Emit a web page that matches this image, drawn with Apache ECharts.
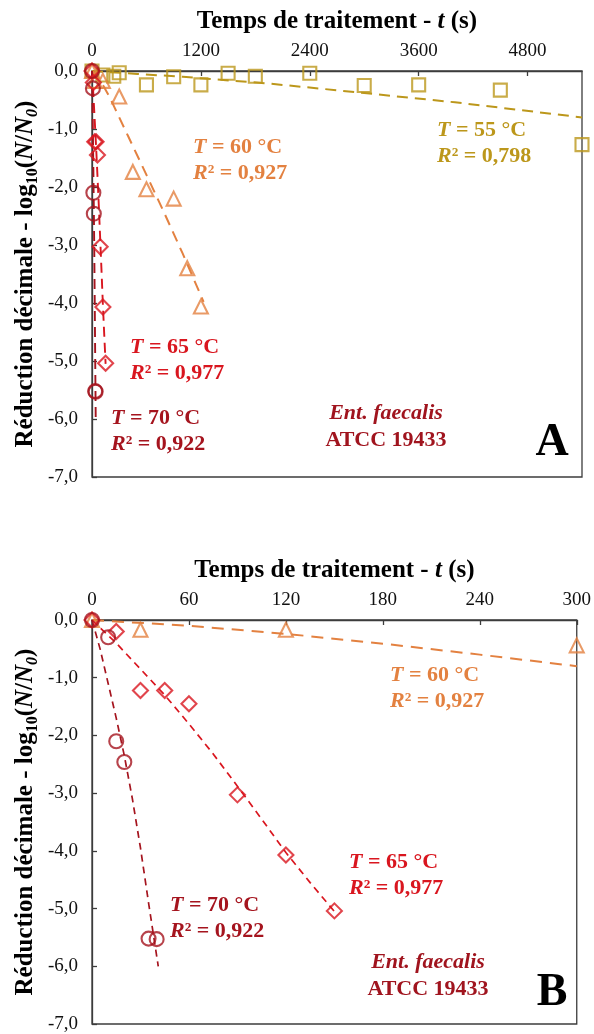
<!DOCTYPE html>
<html><head><meta charset="utf-8">
<script src="https://cdn.jsdelivr.net/npm/echarts@6/dist/echarts.min.js"></script>
<style>html,body{margin:0;padding:0;background:#fff}#c{width:594px;height:1034px}</style>
</head><body><div id="c"></div>
<script>
// ---- data (time in s, log10 reduction) ----
const t55 = [0, 120, 240, 300, 600, 900, 1200, 1500, 1800, 2400, 3000, 3600, 4500, 5400];
const v55 = [0, -0.07, -0.09, -0.03, -0.24, -0.1, -0.24, -0.04, -0.09, -0.04, -0.25, -0.24, -0.33, -1.27];
const t60 = [0, 30, 120, 300, 450, 600, 900, 1050, 1200];
const v60 = [0, -0.17, -0.17, -0.44, -1.74, -2.04, -2.2, -3.4, -4.06];
const t65 = [0, 15, 30, 45, 60, 90, 120, 150];
const v65 = [0, -0.2, -1.22, -1.22, -1.45, -3.03, -4.07, -5.04];
const t70 = [0, 10, 15, 20, 35, 40];
const v70 = [0, -0.3, -2.1, -2.46, -5.52, -5.53];
// fitted curves
const fit55T = [0, 500, 1000, 1900, 2300, 3000, 4000, 5400];
const fit55V = [0, -0.05, -0.1, -0.21, -0.27, -0.38, -0.54, -0.8];
const fit60T = [0, 60, 120, 180, 240, 300, 400, 600, 800, 1000, 1230];
const fit60V = [0, -0.1, -0.24, -0.41, -0.6, -0.8, -1.13, -1.79, -2.46, -3.15, -3.98];
const fit65T = [0, 15, 30, 45, 60, 75, 90, 105, 120, 135, 150];
const fit65V = [0, -0.4, -0.85, -1.3, -1.8, -2.32, -2.88, -3.45, -4.03, -4.55, -5.05];
const fit70T = [0, 5, 10, 15, 20, 25, 30, 35, 41];
const fit70V = [0, -0.5, -1.1, -1.7, -2.35, -3.1, -3.95, -4.9, -6.0];
const xTicksA = [0, 1200, 2400, 3600, 4800];
const xTicksB = [0, 60, 120, 180, 240, 300];
const yTicks = [0, -1, -2, -3, -4, -5, -6, -7];
const labels = {
  T55: ['55 °C', '0,798'], T60: ['60 °C', '0,927'], T65: ['65 °C', '0,977'], T70: ['70 °C', '0,922']
};

const FONT = "'Liberation Serif', 'Times New Roman', serif";
const C55 = '#BC971B', C60 = '#E38140', C65 = '#D9161F', C70 = '#A5141E', CENT = '#A0141E';
const AX = '#3c3c3c';

function pairs(t, v, max) { return t.map((x, i) => [x, v[i]]).filter(p => p[0] <= max + 1e-9); }

const yName = '{b|Réduction décimale - log}{s|10}{b|(}{i|N}{b|/}{i|N}{si|0}{b|)}';
const yRich = {
  b: {fontFamily: FONT, fontSize: 25, fontWeight: 'bold', color: '#000', lineHeight: 30},
  i: {fontFamily: FONT, fontSize: 25, fontWeight: 'bold', fontStyle: 'italic', color: '#000', lineHeight: 30},
  s: {fontFamily: FONT, fontSize: 16, fontWeight: 'bold', color: '#000', verticalAlign: 'bottom', lineHeight: 16},
  si: {fontFamily: FONT, fontSize: 16, fontWeight: 'bold', fontStyle: 'italic', color: '#000', verticalAlign: 'bottom', lineHeight: 16}
};
const xName = '{b|Temps de traitement - }{i|t}{b| (s)}';

function xAxis(gi, max, interval, ticks) {
  return {
    type: 'value', gridIndex: gi, position: 'top', min: 0, max: max, interval: interval,
    name: xName, nameLocation: 'middle', nameGap: 34, nameMoveOverlap: false,
    nameTextStyle: {rich: yRich},
    axisLine: {show: true, lineStyle: {color: AX, width: 1.3}},
    axisTick: {show: true, inside: true, length: 5, lineStyle: {color: AX, width: 1.3}},
    axisLabel: {show: true, margin: 10, fontFamily: FONT, fontSize: 19, color: '#111',
      showMaxLabel: ticks.indexOf(max) >= 0,
      formatter: v => ticks.indexOf(v) >= 0 ? String(v) : ''},
    splitLine: {show: false}
  };
}
function yAxis(gi) {
  return {
    type: 'value', gridIndex: gi, min: -7, max: 0, interval: 1,
    name: yName, nameLocation: 'middle', nameRotate: 90, nameGap: 51, nameMoveOverlap: false,
    nameTextStyle: {rich: yRich},
    axisLine: {show: true, onZero: false, lineStyle: {color: AX, width: 1.3}},
    axisTick: {show: true, inside: true, length: 5, lineStyle: {color: AX, width: 1.3}},
    axisLabel: {margin: 14, fontFamily: FONT, fontSize: 19, color: '#111',
      formatter: v => yTicks.indexOf(v) >= 0 ? v.toFixed(1).replace('.', ',') : ''},
    splitLine: {show: false}
  };
}
function scat(gi, t, v, max, sym, size, color) {
  return {type: 'scatter', xAxisIndex: gi, yAxisIndex: gi, data: pairs(t, v, max), symbol: sym, symbolSize: size,
    clip: false, z: 3, itemStyle: {color: 'rgba(255,255,255,0)', borderColor: color, borderWidth: 2.1}};
}
function fit(gi, t, v, max, color, dash, w) {
  return {type: 'line', xAxisIndex: gi, yAxisIndex: gi, data: pairs(t, v, max), showSymbol: false, symbol: 'none',
    clip: true, z: 2, lineStyle: {color: color, width: w, type: dash}};
}
function ann(x, y, key, color) {
  const r = {
    i: {fontFamily: FONT, fontSize: 22, fontWeight: 'bold', fontStyle: 'italic', fill: color},
    b: {fontFamily: FONT, fontSize: 22, fontWeight: 'bold', fill: color}
  };
  return [
    {type: 'text', x: x, y: y, z: 10, style: {text: '{i|T}{b| = ' + labels[key][0] + '}', rich: r, align: 'left', verticalAlign: 'middle', fill: color}},
    {type: 'text', x: x, y: y + 26, z: 10, style: {text: '{i|R}{b|² = ' + labels[key][1] + '}', rich: r, align: 'left', verticalAlign: 'middle', fill: color}}
  ];
}
function ent(x, y) {
  return [
    {type: 'text', x: x, y: y, z: 10, style: {text: 'Ent. faecalis', font: 'italic bold 22px ' + FONT, fill: CENT, align: 'center', verticalAlign: 'middle'}},
    {type: 'text', x: x, y: y + 27, z: 10, style: {text: 'ATCC 19433', font: 'bold 22px ' + FONT, fill: CENT, align: 'center', verticalAlign: 'middle'}}
  ];
}
function letter(x, y, s) {
  return {type: 'text', x: x, y: y, z: 10, style: {text: s, font: 'bold 46px ' + FONT, fill: '#000', align: 'center', verticalAlign: 'middle'}};
}

const option = {
  animation: false,
  backgroundColor: '#fff',
  grid: [
    {left: 92, top: 71, width: 490, height: 406, show: true, borderColor: AX, borderWidth: 1.3, backgroundColor: 'transparent'},
    {left: 92, top: 620, width: 490, height: 404, show: true, borderColor: AX, borderWidth: 1.3, backgroundColor: 'transparent'}
  ],
  xAxis: [xAxis(0, 5400, 1200, xTicksA), xAxis(1, 300, 60, xTicksB)],
  yAxis: [yAxis(0), yAxis(1)],
  series: [
    fit(0, fit55T, fit55V, 5400, C55, [11, 7], 2),
    fit(0, fit60T, fit60V, 5400, C60, [11, 7], 2),
    fit(0, fit65T, fit65V, 5400, C65, [10, 6], 1.9),
    fit(0, fit70T, fit70V, 5400, C70, [10, 6], 1.9),
    scat(0, t55, v55, 5400, 'rect', 13, C55),
    scat(0, t60, v60, 5400, 'triangle', 14, C60),
    scat(0, t65, v65, 5400, 'diamond', 15, C65),
    scat(0, t70, v70, 5400, 'circle', 14, C70),
    fit(1, fit60T, fit60V, 300, C60, [12, 8], 2),
    fit(1, fit65T, fit65V, 300, C65, [7, 5], 1.7),
    fit(1, fit70T, fit70V, 300, C70, [7, 5], 1.7),
    scat(1, t60, v60, 300, 'triangle', 14, C60),
    scat(1, t65, v65, 300, 'diamond', 15, C65),
    scat(1, t70, v70, 300, 'circle', 14, C70)
  ],
  graphic: [].concat(
    ann(193, 147, 'T60', C60), ann(437, 130, 'T55', C55), ann(130, 347, 'T65', C65), ann(111, 418, 'T70', C70),
    ent(386, 413), [letter(552, 443, 'A')],
    ann(390, 675, 'T60', C60), ann(349, 862, 'T65', C65), ann(170, 905, 'T70', C70),
    ent(428, 962), [letter(552, 993, 'B')]
  )
};
const chart = echarts.init(document.getElementById('c'), null, {renderer: 'canvas'});
chart.setOption(option);
</script></body></html>
